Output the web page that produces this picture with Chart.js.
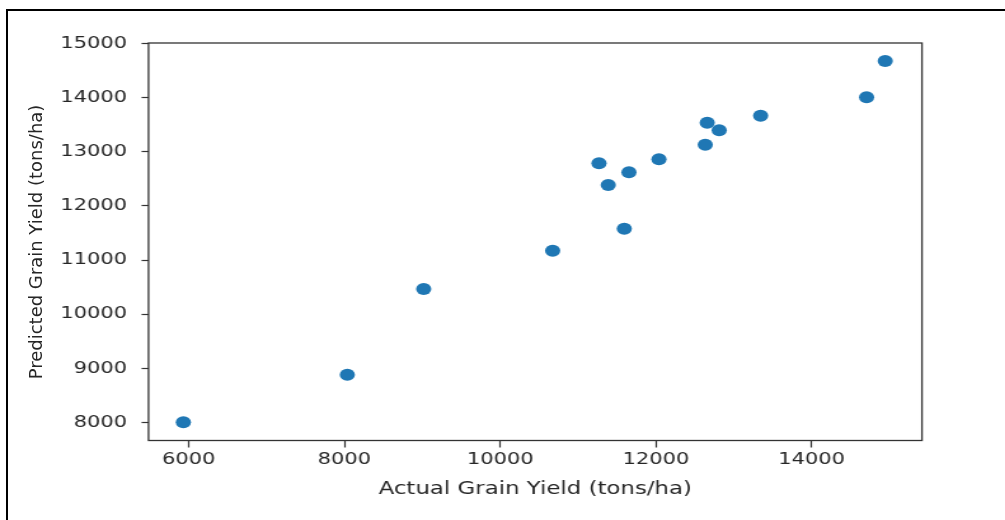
<!DOCTYPE html>
<html>
<head>
<meta charset="utf-8">
<script src="https://cdn.jsdelivr.net/npm/chart.js@4/dist/chart.umd.min.js"></script>
<style>
  html, body { margin: 0; padding: 0; background: #fff; overflow: hidden; }
  #wrap { position: relative; width: 1005px; height: 520px; }
  /* the plot is drawn narrow and widened horizontally */
  #chart { position: absolute; left: 0; top: 0; transform: scaleX(1.2706); transform-origin: 0 0; }
  #frame { position: absolute; left: 6px; top: 9px; width: 1100px; height: 600px; border: 2px solid #000; pointer-events: none; }
  #ylabel {
    position: absolute; left: 35.5px; top: 242px;
    transform: translate(-50%, -50%) rotate(-90deg);
    font: 18px "DejaVu Sans"; line-height: 18px; color: #262626; white-space: nowrap;
  }
</style>
</head>
<body>
<div id="wrap">
  <canvas id="chart" width="791" height="520"></canvas>
  <div id="ylabel">Predicted Grain Yield (tons/ha)</div>
  <div id="frame"></div>
</div>
<script>
// actual vs predicted grain yield per plot
const actualYield = [5931, 8037, 9018, 10674, 11269, 11388, 11654, 11594, 12039, 12634, 12659, 12813, 13345, 14706, 14945];
const predictedYield = [8000, 8880, 10465, 11173, 12789, 12387, 12622, 11580, 12863, 13133, 13539, 13399, 13669, 14009, 14680];

const xTicks = [6000, 8000, 10000, 12000, 14000];
const yTicks = [8000, 9000, 10000, 11000, 12000, 13000, 14000, 15000];

const points = actualYield.map((x, i) => ({ x: x, y: predictedYield[i] }));

const tickFont = { family: 'DejaVu Sans', size: 16.5 };
const axisColor = '#262626';
const plainNumber = v => String(v);

// box around the plot area, like the axes spines
const spines = {
    id: 'spines',
    afterDraw(chart) {
        const { ctx, chartArea: a } = chart;
        ctx.save();
        ctx.strokeStyle = '#333';
        ctx.lineWidth = 1.3;
        ctx.strokeRect(a.left, a.top, a.right - a.left, a.bottom - a.top);
        ctx.restore();
    }
};

new Chart(document.getElementById('chart').getContext('2d'), {
    type: 'scatter',
    data: {
        datasets: [{
            data: points,
            backgroundColor: '#1f77b4',
            pointRadius: 6,
            pointHoverRadius: 6,
            pointBorderWidth: 0
        }]
    },
    options: {
        responsive: false,
        animation: false,
        layout: { padding: { left: 0, right: 65.4, top: 43, bottom: 0 } },
        plugins: { legend: { display: false }, tooltip: { enabled: false } },
        scales: {
            x: {
                type: 'linear',
                min: 5484,
                max: 15417,
                afterBuildTicks: s => { s.ticks = xTicks.map(v => ({ value: v })); },
                afterFit: s => { s.height = 79.5; },
                grid: { display: true, drawOnChartArea: false, drawTicks: true, tickLength: 7, color: '#333', tickWidth: 1.2 },
                border: { display: false },
                ticks: { font: tickFont, color: axisColor, padding: 2, maxRotation: 0, callback: plainNumber },
                title: {
                    display: true,
                    text: 'Actual Grain Yield (tons/ha)',
                    font: { family: 'DejaVu Sans', size: 18 },
                    color: axisColor,
                    padding: { top: 0, bottom: 20 }
                }
            },
            y: {
                type: 'linear',
                min: 7664,
                max: 15013,
                afterBuildTicks: s => { s.ticks = yTicks.map(v => ({ value: v })); },
                afterFit: s => { s.width = 116.9; },
                grid: { display: true, drawOnChartArea: false, drawTicks: true, tickLength: 5.5, color: '#333', tickWidth: 1.2 },
                border: { display: false },
                ticks: { font: tickFont, color: axisColor, padding: 11.5, callback: plainNumber }
            }
        }
    },
    plugins: [spines]
});
</script>
</body>
</html>
